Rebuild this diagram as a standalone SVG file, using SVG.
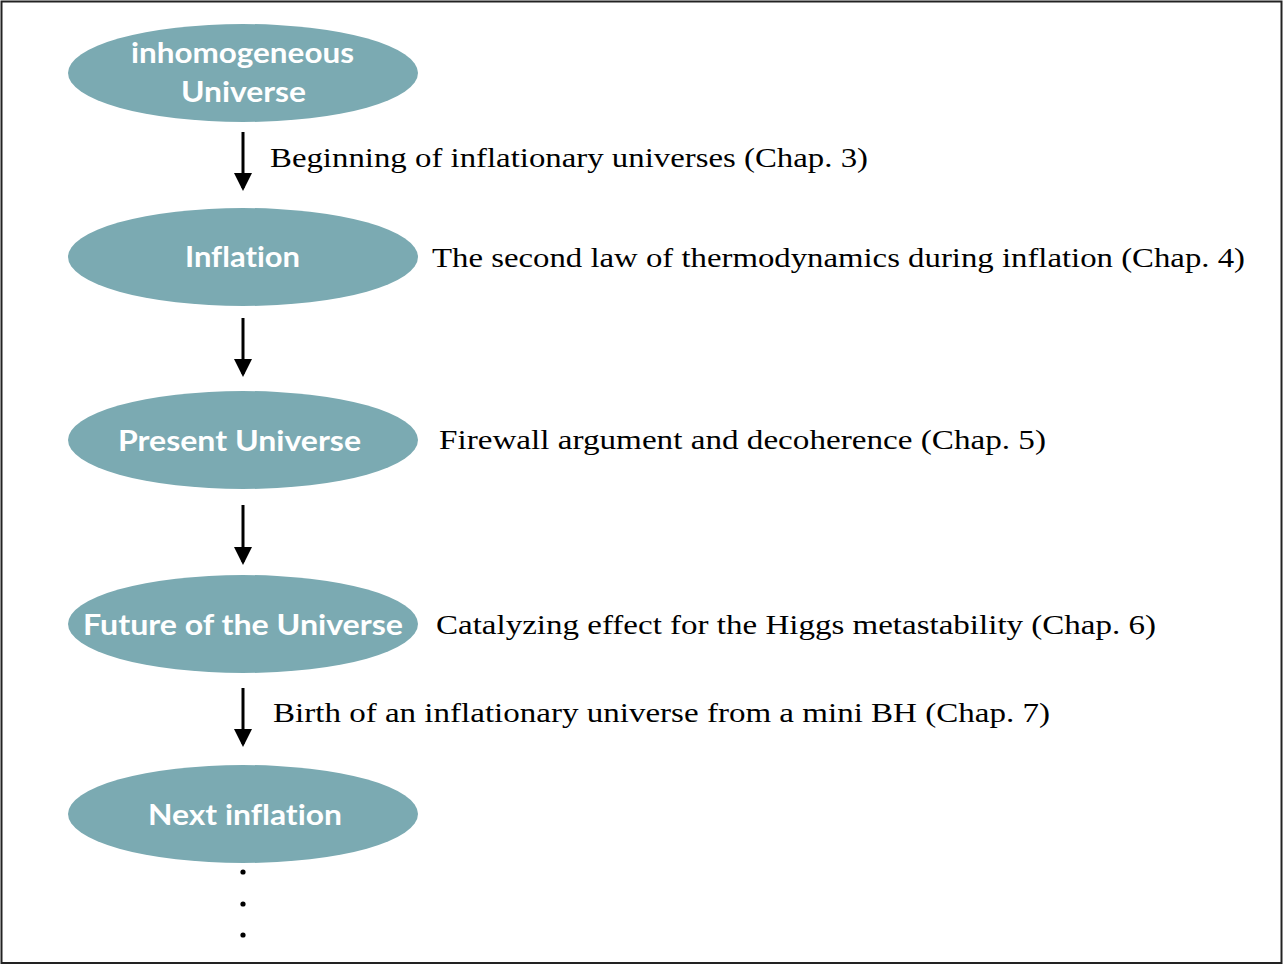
<svg xmlns="http://www.w3.org/2000/svg" width="1283" height="965" viewBox="0 0 1283 965">
<style>
.node ellipse{fill:#7BAAB2;}
.node text{font-family:Lato,"Open Sans",sans-serif;font-weight:700;font-size:29px;fill:#ffffff;text-anchor:middle;font-variant-ligatures:none;font-feature-settings:"liga" 0,"dlig" 0;}
.lbl{font-family:"Liberation Serif","DejaVu Serif",serif;font-size:28px;fill:#000;}
.conn line{stroke:#000;stroke-width:3;}
</style>
<defs>
<marker id="ah" markerWidth="6" markerHeight="6" refX="5" refY="3" orient="auto" markerUnits="strokeWidth">
<path d="M0,0 L6,3 L0,6 Z" fill="#000"/>
</marker>
</defs>
<rect x="1.5" y="1.5" width="1280" height="961.5" fill="#fff" stroke="#222" stroke-width="2"/>
<g id="n1" class="node"><ellipse cx="243" cy="73" rx="175" ry="49"/><text x="242.5" y="63" textLength="223" lengthAdjust="spacingAndGlyphs">inhomogeneous</text><text x="243.5" y="102" textLength="125" lengthAdjust="spacingAndGlyphs">Universe</text></g>
<g id="n2" class="node"><ellipse cx="243" cy="257" rx="175" ry="49"/><text x="242.5" y="267" textLength="115" lengthAdjust="spacingAndGlyphs">Inflation</text></g>
<g id="n3" class="node"><ellipse cx="243" cy="440" rx="175" ry="49"/><text x="239.5" y="451" textLength="243" lengthAdjust="spacingAndGlyphs">Present Universe</text></g>
<g id="n4" class="node"><ellipse cx="243" cy="624" rx="175" ry="49"/><text x="243" y="635" textLength="320" lengthAdjust="spacingAndGlyphs">Future of the Universe</text></g>
<g id="n5" class="node"><ellipse cx="243" cy="814" rx="175" ry="49"/><text x="245" y="825" textLength="194" lengthAdjust="spacingAndGlyphs">Next inflation</text></g>
<g id="connectors" class="conn">
<line x1="243" y1="132" x2="243" y2="188" marker-end="url(#ah)"/>
<line x1="243" y1="318" x2="243" y2="374" marker-end="url(#ah)"/>
<line x1="243" y1="505" x2="243" y2="562" marker-end="url(#ah)"/>
<line x1="243" y1="688" x2="243" y2="744" marker-end="url(#ah)"/>
</g>
<g id="labels">
<text class="lbl" x="270" y="167" textLength="598" lengthAdjust="spacingAndGlyphs">Beginning of inflationary universes (Chap. 3)</text>
<text class="lbl" x="432" y="267" textLength="813" lengthAdjust="spacingAndGlyphs">The second law of thermodynamics during inflation (Chap. 4)</text>
<text class="lbl" x="439" y="449" textLength="607" lengthAdjust="spacingAndGlyphs">Firewall argument and decoherence (Chap. 5)</text>
<text class="lbl" x="436" y="634" textLength="720" lengthAdjust="spacingAndGlyphs">Catalyzing effect for the Higgs metastability (Chap. 6)</text>
<text class="lbl" x="273" y="722" textLength="777" lengthAdjust="spacingAndGlyphs">Birth of an inflationary universe from a mini BH (Chap. 7)</text>
</g>
<g id="dots" fill="#000">
<circle cx="243" cy="872" r="2.6"/><circle cx="243" cy="904" r="2.6"/><circle cx="243" cy="935" r="2.6"/>
</g>
</svg>
